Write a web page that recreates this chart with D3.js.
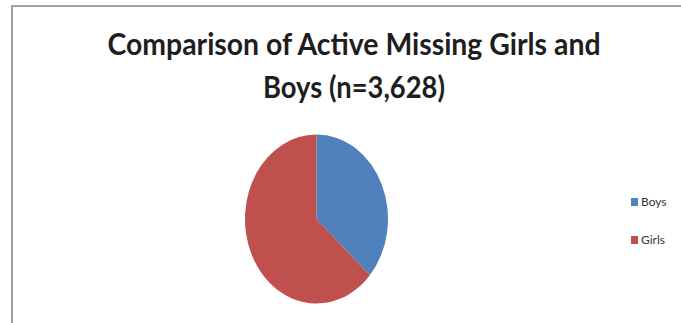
<!DOCTYPE html>
<html>
<head>
<meta charset="utf-8">
<script src="https://cdn.jsdelivr.net/npm/d3@7"></script>
<style>
  body { margin: 0; background: #fff; }
  svg { display: block; }
</style>
</head>
<body>
<script>
"use strict";
// data (n = 3,628)
const categories = ["Boys", "Girls"]
const counts = [1328, 2300]
const colours = ["#4f81bd", "#c0504d"]
const titleLines = ["Comparison of Active Missing Girls and", "Boys (n=3,628)"]

const measurements = {
    width: 681,
    height: 323
}

const svg = d3.select("body").append("svg")
    .attr("width", measurements.width)
    .attr("height", measurements.height)

// chart frame, runs off the right and bottom edges
svg.append("rect")
    .attr("x", 12)
    .attr("y", 6)
    .attr("width", 700)
    .attr("height", 340)
    .attr("fill", "#fff")
    .attr("stroke", "#a0a0a0")
    .attr("stroke-width", 2)

// title
const titleWidths = [493, 182]
svg.selectAll(".title")
    .data(titleLines)
    .enter()
    .append("text")
    .attr("class", "title")
    .attr("x", 354)
    .attr("y", (d, i) => 55 + i * 43)
    .attr("text-anchor", "middle")
    .attr("font-family", "Lato, 'Open Sans', sans-serif")
    .attr("font-weight", "bold")
    .attr("font-size", 30)
    .attr("fill", "#1e1e1e")
    .attr("textLength", (d, i) => titleWidths[i])
    .attr("lengthAdjust", "spacingAndGlyphs")
    .text(d => d)

// pie, drawn as an ellipse (squashed horizontally)
const rx = 71.5, ry = 84.5
const pie = d3.pie().sort(null).value(d => d)
const arc = d3.arc().innerRadius(0).outerRadius(ry)
const colour = d3.scaleOrdinal().domain(categories).range(colours)

const pieG = svg.append("g")
    .attr("transform", `translate(316.5,219) scale(${rx / ry},1)`)

pieG.selectAll("path")
    .data(pie(counts))
    .enter()
    .append("path")
    .attr("d", arc)
    .attr("fill", (d, i) => colour(categories[i]))

// legend
const legendY = d3.scalePoint().domain(categories).range([202, 240])
const legend = svg.selectAll(".legend")
    .data(categories)
    .enter()
    .append("g")
    .attr("class", "legend")
    .attr("transform", d => `translate(631,${legendY(d)})`)

legend.append("rect")
    .attr("x", 0)
    .attr("y", -4)
    .attr("width", 7)
    .attr("height", 8)
    .attr("fill", d => colour(d))

legend.append("text")
    .attr("x", 10)
    .attr("y", 4)
    .attr("font-family", "Lato, 'Open Sans', sans-serif")
    .attr("font-size", 12)
    .attr("fill", "#333")
    .text(d => d)
</script>
</body>
</html>
